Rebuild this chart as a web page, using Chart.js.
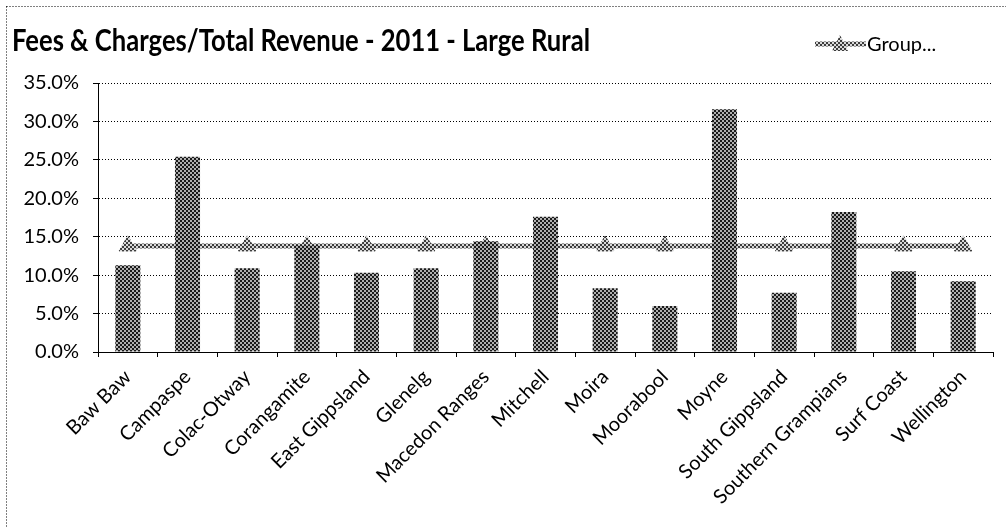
<!DOCTYPE html>
<html lang="en">
<head>
    <meta charset="UTF-8">
    <title>Fees & Charges/Total Revenue - 2011 - Large Rural</title>
    <script src="https://cdn.jsdelivr.net/npm/chart.js@4.4.0/dist/chart.umd.min.js"></script>
    <style>
      body { margin: 0; background: #fff; }
      #wrap { width: 1006px; height: 528px; }
    </style>
</head>
<body>
    <div id="wrap"><canvas id="chart" width="1006" height="528"></canvas></div>

    <script>
      // data
      var councils = ['Baw Baw', 'Campaspe', 'Colac-Otway', 'Corangamite', 'East Gippsland', 'Glenelg',
        'Macedon Ranges', 'Mitchell', 'Moira', 'Moorabool', 'Moyne', 'South Gippsland',
        'Southern Grampians', 'Surf Coast', 'Wellington']
      var feesShare = [11.3, 25.4, 10.9, 13.9, 10.3, 10.9, 14.4, 17.6, 8.3, 6.0, 31.6, 7.7, 18.2, 10.5, 9.2]
      var groupAvg = [13.8, 13.8, 13.8, 13.8, 13.8, 13.8, 13.8, 13.8, 13.8, 13.8, 13.8, 13.8, 13.8, 13.8, 13.8]
      var chartTitle = 'Fees & Charges/Total Revenue - 2011 - Large Rural'
      var groupLabel = 'Group...'

      var canvas = document.getElementById('chart')
      var ctx = canvas.getContext('2d')
      var face = 'Lato, "Open Sans", "Liberation Sans", sans-serif'

      function checker(dark, light){
        var c = document.createElement('canvas')
        c.width = 4; c.height = 4
        var g = c.getContext('2d')
        g.fillStyle = light; g.fillRect(0, 0, 4, 4)
        g.fillStyle = dark
        g.fillRect(0, 0, 2, 2); g.fillRect(2, 2, 2, 2)
        return ctx.createPattern(c, 'repeat')
      }
      var barFill = checker('#1a1a1a', '#b0b0b0')
      var lineFill = checker('#3c3c3c', '#d8d8d8')

      // dotted frame, title and legend drawn straight on the canvas
      var header = {
        id: 'header',
        beforeDraw: function(chart){
          var c = chart.ctx
          c.save()
          c.strokeStyle = '#000'
          c.lineWidth = 1
          c.setLineDash([1, 2])
          c.strokeRect(6.5, 6.5, 1100, 600)
          c.restore()
        },
        afterDraw: function(chart){
          var c = chart.ctx
          c.save()
          c.fillStyle = '#000'
          c.textBaseline = 'alphabetic'
          c.font = 'bold 31px ' + face
          c.fillText(chartTitle, 12, 51, 578)
          // legend sample
          c.strokeStyle = lineFill
          c.lineWidth = 5
          c.beginPath(); c.moveTo(815, 44); c.lineTo(866, 44); c.stroke()
          c.fillStyle = lineFill
          c.beginPath(); c.moveTo(840, 35); c.lineTo(848, 51); c.lineTo(832, 51); c.closePath(); c.fill()
          c.fillStyle = '#000'
          c.font = '20px ' + face
          c.fillText(groupLabel, 867, 51, 72)
          c.restore()
        }
      }

      new Chart(canvas, {
        type: 'bar',
        data: {
          labels: councils,
          datasets: [{
            label: 'Fees & Charges/Total Revenue',
            data: feesShare,
            backgroundColor: barFill,
            borderWidth: 0,
            barPercentage: 0.42,
            categoryPercentage: 1,
            order: 0
          }, {
            type: 'line',
            label: groupLabel,
            data: groupAvg,
            borderColor: lineFill,
            borderWidth: 5,
            pointStyle: 'triangle',
            pointRadius: 10,
            pointBackgroundColor: lineFill,
            pointBorderColor: lineFill,
            pointBorderWidth: 1,
            order: 1
          }]
        },
        options: {
          responsive: false,
          animation: false,
          layout: { padding: { top: 83, right: 13, left: 0, bottom: 0 } },
          plugins: { legend: { display: false }, title: { display: false }, tooltip: { enabled: false } },
          scales: {
            x: {
              grid: { drawOnChartArea: false, color: '#000', tickLength: 5, offset: true },
              border: { color: '#000', dash: [1, 2] },
              ticks: { color: '#000', minRotation: 45, maxRotation: 45, padding: 8,
                font: { family: face, size: 20 } },
              afterFit: function(s){ s.height = 176 }
            },
            y: {
              min: 0, max: 35,
              ticks: { stepSize: 5, color: '#000', padding: 14,
                font: { family: face, size: 20 },
                callback: function(v){ return v.toFixed(1) + '%' } },
              grid: { color: '#000', tickLength: 5 },
              border: { color: '#000', dash: [1, 2] },
              afterFit: function(s){ s.width = 98 }
            }
          }
        },
        plugins: [header]
      })
    </script>
</body>
</html>
